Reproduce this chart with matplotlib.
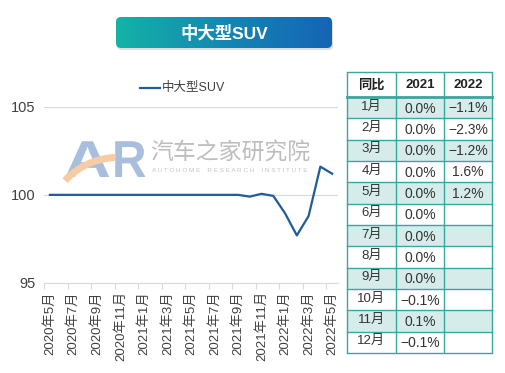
import numpy as np
import matplotlib
matplotlib.use("Agg")
import matplotlib.pyplot as plt
from matplotlib.patches import FancyBboxPatch, Rectangle, Polygon, PathPatch
from matplotlib.lines import Line2D
from matplotlib.colors import LinearSegmentedColormap
from matplotlib.textpath import TextPath
from matplotlib.font_manager import FontProperties
from matplotlib.transforms import Affine2D

plt.rcParams['font.family'] = ['Liberation Sans', 'Noto Sans CJK SC', 'DejaVu Sans']

# ---------------- data ----------------
months = ['2020年5月', '2020年6月', '2020年7月', '2020年8月', '2020年9月', '2020年10月',
          '2020年11月', '2020年12月', '2021年1月', '2021年2月', '2021年3月', '2021年4月',
          '2021年5月', '2021年6月', '2021年7月', '2021年8月', '2021年9月', '2021年10月',
          '2021年11月', '2021年12月', '2022年1月', '2022年2月', '2022年3月', '2022年4月',
          '2022年5月']
index_values = [100, 100, 100, 100, 100, 100, 100, 100, 100, 100, 100, 100, 100,
                100, 100, 100, 100, 99.9, 100.06, 99.94, 98.95, 97.7, 98.8, 101.6, 101.2]
series_name = '中大型SUV'
y_ticks = [95, 100, 105]

table_header = ['同比', '2021', '2022']
table_months = ['1月', '2月', '3月', '4月', '5月', '6月', '7月', '8月', '9月', '10月', '11月', '12月']
yoy_2021 = ['0.0%', '0.0%', '0.0%', '0.0%', '0.0%', '0.0%', '0.0%', '0.0%', '0.0%',
            '−0.1%', '0.1%', '−0.1%']
yoy_2022 = ['−1.1%', '−2.3%', '−1.2%', '1.6%', '1.2%', '', '', '', '', '', '', '']

# ---------------- figure ----------------
W, H = 505, 373
fig = plt.figure(figsize=(W / 100, H / 100), dpi=100)
fig.patch.set_facecolor('white')

# overlay axes in pixel coordinates (background decorations)
bg = fig.add_axes([0, 0, 1, 1], zorder=0)
bg.axis('off')

# ---- watermark ----
wm_blue = '#a9bedc'
wm_orange = '#f7cba3'
fp = FontProperties(family='Liberation Sans', weight='bold')
for ch, x0, sx in [('A', 64, 1.25), ('R', 112, 0.92)]:
    tp = TextPath((0, 0), ch, size=52, prop=fp)
    tp = Affine2D().scale(sx, -1).translate(x0, 177).transform_path(tp)
    bg.add_patch(PathPatch(tp, fc=wm_blue, ec='none', zorder=1))
# orange arc band
th = np.linspace(np.radians(92), np.radians(137), 40)
cx, cy, r1, r2 = 118, 230, 76, 69
outer = np.column_stack([cx + r1 * np.cos(th), cy - r1 * np.sin(th)])
inner = np.column_stack([cx + r2 * np.cos(th[::-1]), cy - r2 * np.sin(th[::-1])])
bg.add_patch(Polygon(np.vstack([outer, inner]), closed=True, color=wm_orange, lw=0, zorder=2))
bg.text(150, 153, '汽车之家研究院', fontsize=16.5, color='#bdbdbd', ha='left', va='center',
        family=['Noto Sans CJK SC'])
bg.text(152, 171, 'A U T O H O M E    R E S E A R C H    I N S T I T U T E',
        fontsize=4.6, color='#c4c4c4', ha='left', va='center')

# ---- title banner ----
bx0, by0, bw, bh = 116, 17, 216, 31
bg.add_patch(FancyBboxPatch((bx0 + 1, by0 + 2), bw, bh, boxstyle='round,pad=0,rounding_size=5',
                            fc='#c8c8c8', ec='none', alpha=0.6))
grad = np.linspace(0, 1, 256).reshape(1, -1)
cmap = LinearSegmentedColormap.from_list('ban', ['#14b3a6', '#1487b3', '#1664b5'])
im = bg.imshow(grad, cmap=cmap, extent=(bx0, bx0 + bw, by0 + bh, by0), aspect='auto', zorder=2)
clip = FancyBboxPatch((bx0, by0), bw, bh, boxstyle='round,pad=0,rounding_size=5',
                      fc='none', ec='none', transform=bg.transData)
bg.add_patch(clip)
im.set_clip_path(clip)
bg.set_xlim(0, W)
bg.set_ylim(H, 0)
bg.text(bx0 + bw / 2, by0 + bh / 2 + 1, '中大型SUV', fontsize=12.5, fontweight='bold',
        color='white', ha='center', va='center', zorder=3)

# ---- table ----
teal = '#3aa69e'
shade = '#d5ecea'
col_x = [347, 396, 444, 492]
top, head_bot, bottom = 72, 97, 353
row_h = (bottom - head_bot) / len(table_months)
for i in range(len(table_months)):
    y0 = head_bot + i * row_h
    if i % 2 == 0:
        bg.add_patch(Rectangle((col_x[0], y0), col_x[3] - col_x[0], row_h, fc=shade, ec='none', zorder=1))
for xv in col_x:
    bg.plot([xv, xv], [top, bottom], color=teal, lw=1.0, zorder=4, solid_capstyle='butt')
bg.plot([col_x[0], col_x[3]], [top, top], color=teal, lw=1.0, zorder=4)
bg.plot([col_x[0], col_x[3]], [head_bot, head_bot], color=teal, lw=2.0, zorder=4)
for i in range(1, len(table_months) + 1):
    yv = head_bot + i * row_h
    bg.plot([col_x[0], col_x[3]], [yv, yv], color=teal, lw=1.0, zorder=4)
centers = [(col_x[j] + col_x[j + 1]) / 2 for j in range(3)]
for j, h in enumerate(table_header):
    bg.text(centers[j], (top + head_bot) / 2 + 1, h, fontsize=9.5, fontweight='bold',
            color='#222222', ha='center', va='center', zorder=5)
for i in range(len(table_months)):
    yc = head_bot + (i + 0.5) * row_h
    bg.text(centers[0], yc - 1, table_months[i], fontsize=9.5, color='#333333',
            ha='center', va='center', zorder=5)
    bg.text(centers[1], yc + 1, yoy_2021[i], fontsize=10, color='#333333',
            ha='center', va='center', zorder=5)
    if yoy_2022[i]:
        bg.text(centers[2], yc + 0.5, yoy_2022[i], fontsize=10, color='#333333',
                ha='center', va='center', zorder=5)

# ---------------- main chart ----------------
ax = fig.add_axes([44 / W, 1 - 283 / H, 294 / W, (283 - 106.7) / H], zorder=2)
ax.patch.set_alpha(0)
x = np.arange(len(months))
line_color = '#1f5c99'
ax.plot(x, index_values, color=line_color, lw=1.6, label=series_name, zorder=3)
ax.set_xlim(-0.5, len(months) - 0.5)
ax.set_ylim(95, 105)
ax.set_yticks(y_ticks)
ax.set_yticklabels([str(v) for v in y_ticks], fontsize=10.5, color='#404040')
ax.yaxis.grid(True, color='#d9d9d9', lw=0.8)
ax.set_axisbelow(True)
ax.tick_params(axis='y', length=0, pad=6)
ax.set_xticks(x[::2])
ax.set_xticklabels(months[::2], rotation=90, fontsize=9.5, color='#404040')
ax.set_xticks(np.arange(-0.5, len(months), 2), minor=True)
ax.tick_params(axis='x', which='major', length=0, pad=6)
ax.tick_params(axis='x', which='minor', length=4, color='#d9d9d9', width=0.8)
for s in ['top', 'right', 'left']:
    ax.spines[s].set_visible(False)
ax.spines['bottom'].set_color('#d9d9d9')
ax.spines['bottom'].set_linewidth(0.8)

# legend
bg.add_line(Line2D([140, 160], [88, 88], color=line_color, lw=1.6, zorder=3))
bg.text(162, 88, series_name, fontsize=9, color='#404040', ha='left', va='center')

fig.savefig('out.png', dpi=100, facecolor='white')
